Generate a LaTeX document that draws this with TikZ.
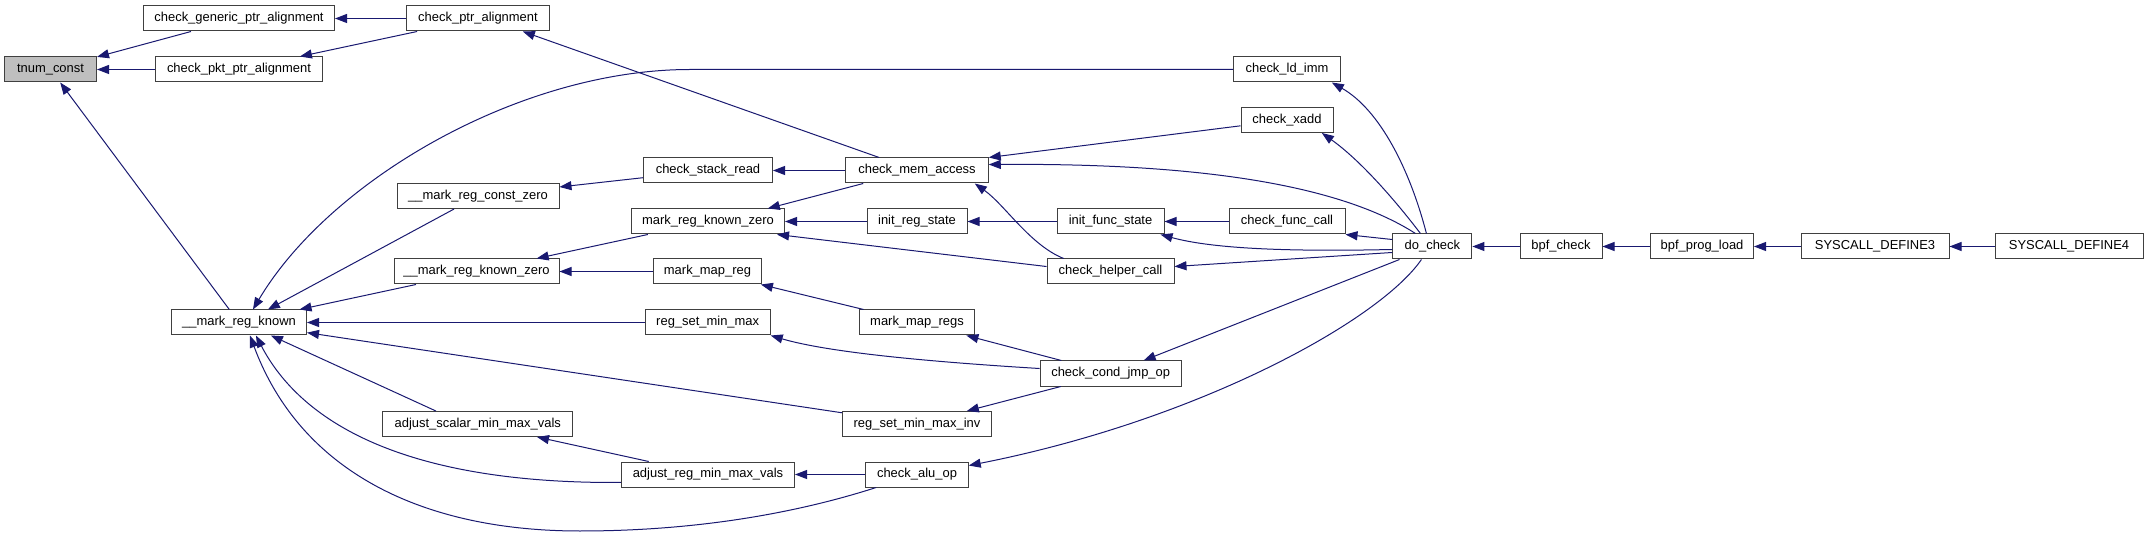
\documentclass[tikz,border=0pt]{standalone}
\usepackage{fontspec}
\setmainfont{Liberation Sans}
\usetikzlibrary{arrows.meta}
\definecolor{edgec}{HTML}{191970}
\definecolor{boxc}{HTML}{404040}
\begin{document}
\begin{tikzpicture}[x=1bp,y=-1bp,
  fn/.style={draw=boxc, line width=1bp, fill=white, text=black, minimum height=25bp, inner sep=0pt, font=\fontsize{13}{15}\selectfont},
  arr/.style={color=edgec, line width=1bp, -{Triangle[length=12bp,width=9bp]}}]
\useasboundingbox (0,0) rectangle (2148,537);
% nodes
\node[fn, minimum width=92bp, fill=black!25] (tnum) at (50.5,69.5) {tnum\_const};
\node[fn, minimum width=191bp] (cgpa) at (239,18.5) {check\_generic\_ptr\_alignment};
\node[fn, minimum width=167bp] (cppa) at (239,69.5) {check\_pkt\_ptr\_alignment};
\node[fn, minimum width=135bp] (mrk) at (239,322.5) {\_\_mark\_reg\_known};
\node[fn, minimum width=143bp] (cpa) at (478,18.5) {check\_ptr\_alignment};
\node[fn, minimum width=162bp] (mrcz) at (478,196) {\_\_mark\_reg\_const\_zero};
\node[fn, minimum width=165bp] (umrkz) at (476.5,271.5) {\_\_mark\_reg\_known\_zero};
\node[fn, minimum width=190bp] (asmmv) at (477.75,424) {adjust\_scalar\_min\_max\_vals};
\node[fn, minimum width=129bp] (csr) at (708,170.5) {check\_stack\_read};
\node[fn, minimum width=153bp] (mrkz) at (708,221.5) {mark\_reg\_known\_zero};
\node[fn, minimum width=108bp] (mmr) at (707.5,271.5) {mark\_map\_reg};
\node[fn, minimum width=125bp] (rsmm) at (707.7,322.5) {reg\_set\_min\_max};
\node[fn, minimum width=173bp] (armmv) at (708,474.5) {adjust\_reg\_min\_max\_vals};
\node[fn, minimum width=142.5bp] (cma) at (917,170.5) {check\_mem\_access};
\node[fn, minimum width=100bp] (irs) at (917,221.5) {init\_reg\_state};
\node[fn, minimum width=115bp] (mmrs) at (917,322.5) {mark\_map\_regs};
\node[fn, minimum width=149bp] (rsmmi) at (917,424) {reg\_set\_min\_max\_inv};
\node[fn, minimum width=102.5bp] (cao) at (917,474.5) {check\_alu\_op};
\node[fn, minimum width=107bp] (ifs) at (1110.5,221.5) {init\_func\_state};
\node[fn, minimum width=127bp] (chc) at (1110.5,271.5) {check\_helper\_call};
\node[fn, minimum width=141bp] (ccjo) at (1110.7,373.5) {check\_cond\_jmp\_op};
\node[fn, minimum width=107bp] (cli) at (1287,69.5) {check\_ld\_imm};
\node[fn, minimum width=92bp] (cx) at (1287,120) {check\_xadd};
\node[fn, minimum width=116bp] (cfc) at (1287,221.5) {check\_func\_call};
\node[fn, minimum width=79bp] (dc) at (1432.4,246.5) {do\_check};
\node[fn, minimum width=82bp] (bc) at (1561,246.5) {bpf\_check};
\node[fn, minimum width=103bp] (bpl) at (1702,246.5) {bpf\_prog\_load};
\node[fn, minimum width=148bp] (sd3) at (1875,246.5) {SYSCALL\_DEFINE3};
\node[fn, minimum width=148bp] (sd4) at (2069,246.5) {SYSCALL\_DEFINE4};
% edges (caller -> callee)
\draw[arr] (cgpa) -- (tnum);
\draw[arr] (cppa) -- (tnum);
\draw[arr] (mrk) -- (tnum);
\draw[arr] (cpa) -- (cgpa);
\draw[arr] (cpa) -- (cppa);
\draw[arr] ([xshift=-38]cma.north) -- ([xshift=45]cpa.south);
\draw[arr] (cli.west) -- (690,69.5) .. controls (520,69.5) and (330,180) .. ([xshift=14]mrk.north);
\draw[arr] ([xshift=-24]mrcz.south) -- ([xshift=29]mrk.north);
\draw[arr] (umrkz) -- (mrk);
\draw[arr] (rsmm) -- (mrk);
\draw[arr] (rsmmi) -- (mrk);
\draw[arr] ([xshift=-42]asmmv.north) -- ([xshift=32]mrk.south);
\draw[arr] ([yshift=-8]armmv.west) .. controls (400,484) and (300,420) .. ([xshift=17]mrk.south);
\draw[arr] ([xshift=-41]cao.south) .. controls (800,512) and (700,531) .. (580,531) .. controls (420,531) and (300,470) .. ([xshift=11]mrk.south);
\draw[arr] (csr) -- (mrcz);
\draw[arr] (mrkz) -- (umrkz);
\draw[arr] (mmr) -- (umrkz);
\draw[arr] (cma) -- (csr);
\draw[arr] ([xshift=-54]cma.south) -- ([xshift=60]mrkz.north);
\draw[arr] (irs) -- (mrkz);
\draw[arr] ([yshift=5]chc.west) -- ([xshift=-8]mrkz.south east);
\draw[arr] (mmrs) -- (mmr);
\draw[arr] ([yshift=5]ccjo.west) .. controls (900,360) and (820,350) .. (rsmm.south east);
\draw[arr] (ccjo) -- (rsmmi);
\draw[arr] (cao) -- (armmv);
\draw[arr] (armmv) -- (asmmv);
\draw[arr] (cx) -- (cma.north east);
\draw[arr] ([xshift=-17]dc.north) .. controls (1340,185) and (1200,163) .. ([yshift=6]cma.east);
\draw[arr] ([xshift=-47]chc.north) .. controls (1030,245) and (1005,205) .. ([xshift=58]cma.south);
\draw[arr] (ifs) -- (irs);
\draw[arr] (ccjo) -- (mmrs);
\draw[arr] (dc) -- (ccjo);
\draw[arr] ([xshift=-11]dc.south) .. controls (1380,320) and (1200,420) .. ([yshift=9]cao.east);
\draw[arr] (cfc) -- (ifs);
\draw[arr] ([yshift=-3]dc.west) .. controls (1280,252) and (1210,248) .. ([xshift=-4]ifs.south east);
\draw[arr] ([yshift=-6]dc.west) -- ([yshift=5]chc.east);
\draw[arr] ([xshift=-6]dc.north) .. controls (1410,170) and (1380,110) .. ([xshift=45]cli.south);
\draw[arr] ([xshift=-12]dc.north) .. controls (1395,200) and (1360,160) .. ([xshift=35]cx.south);
\draw[arr] ([yshift=7]dc.west) -- (cfc.south east);
\draw[arr] (bc) -- (dc);
\draw[arr] (bpl) -- (bc);
\draw[arr] (sd3) -- (bpl);
\draw[arr] (sd4) -- (sd3);
\end{tikzpicture}
\end{document}
